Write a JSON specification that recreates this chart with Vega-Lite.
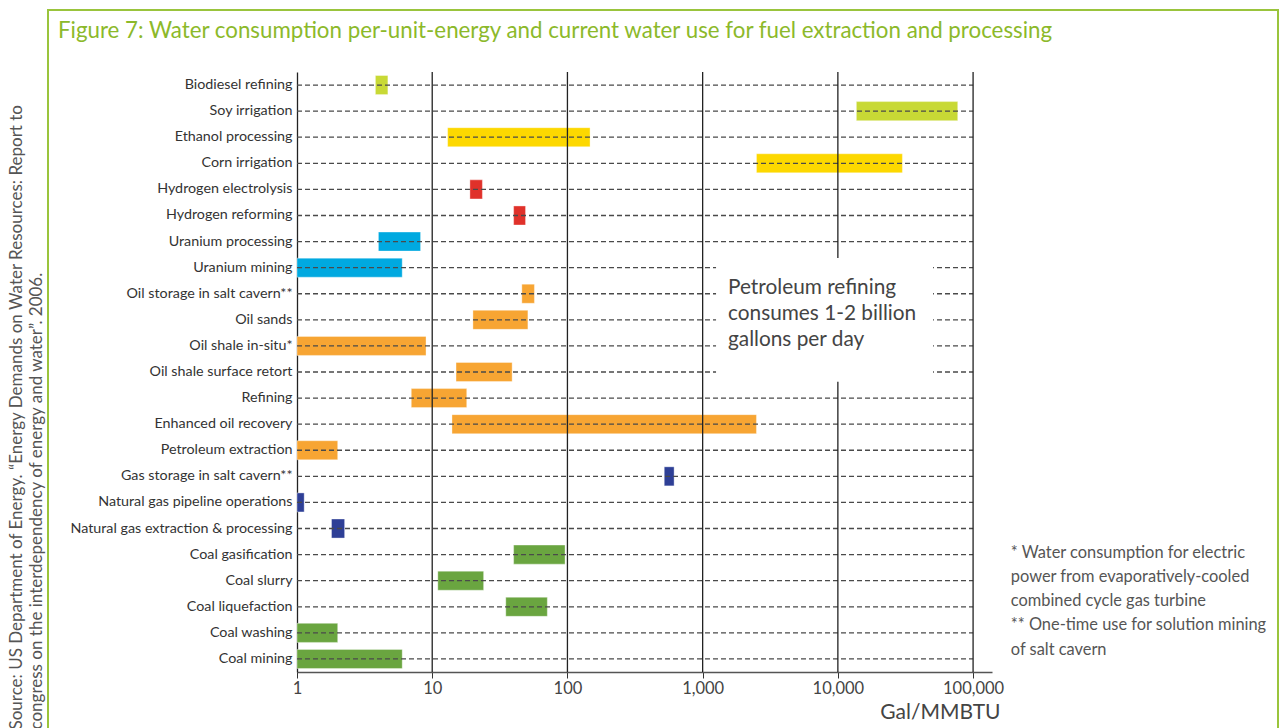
{
  "$schema": "https://vega.github.io/schema/vega-lite/v6.json",
  "width": 695,
  "height": 600,
  "autosize": {"type": "none"},
  "padding": {"left": 297, "top": 72, "right": 295, "bottom": 56},
  "background": "white",
  "config": {"view": {"stroke": null}, "font": "Lato"},
  "title": {
    "text": "Figure 7: Water consumption per-unit-energy and current water use for fuel extraction and processing",
    "anchor": "start",
    "frame": "group",
    "dx": -239,
    "offset": -51,
    "baseline": "alphabetic",
    "fontSize": 22.3,
    "fontWeight": "normal",
    "font": "Lato",
    "color": "#8cb92a"
  },
  "datasets": {
    "processes": [
      {"process": "Biodiesel refining", "group": "Biodiesel", "low": 3.8, "high": 4.7},
      {"process": "Soy irrigation", "group": "Biodiesel", "low": 13700, "high": 77000},
      {"process": "Ethanol processing", "group": "Ethanol", "low": 13, "high": 147},
      {"process": "Corn irrigation", "group": "Ethanol", "low": 2500, "high": 30000},
      {"process": "Hydrogen electrolysis", "group": "Hydrogen", "low": 19, "high": 23.5},
      {"process": "Hydrogen reforming", "group": "Hydrogen", "low": 40, "high": 49},
      {"process": "Uranium processing", "group": "Uranium", "low": 4, "high": 8.2},
      {"process": "Uranium mining", "group": "Uranium", "low": 1, "high": 6},
      {"process": "Oil storage in salt cavern**", "group": "Oil", "low": 46, "high": 57},
      {"process": "Oil sands", "group": "Oil", "low": 20, "high": 51},
      {"process": "Oil shale in-situ*", "group": "Oil", "low": 1, "high": 9},
      {"process": "Oil shale surface retort", "group": "Oil", "low": 15, "high": 39},
      {"process": "Refining", "group": "Oil", "low": 7, "high": 18},
      {"process": "Enhanced oil recovery", "group": "Oil", "low": 14, "high": 2500},
      {"process": "Petroleum extraction", "group": "Oil", "low": 1, "high": 2},
      {"process": "Gas storage in salt cavern**", "group": "Gas", "low": 520, "high": 615},
      {"process": "Natural gas pipeline operations", "group": "Gas", "low": 1, "high": 1.13},
      {"process": "Natural gas extraction & processing", "group": "Gas", "low": 1.8, "high": 2.25},
      {"process": "Coal gasification", "group": "Coal", "low": 40, "high": 96},
      {"process": "Coal slurry", "group": "Coal", "low": 11, "high": 24},
      {"process": "Coal liquefaction", "group": "Coal", "low": 35, "high": 71},
      {"process": "Coal washing", "group": "Coal", "low": 1, "high": 2},
      {"process": "Coal mining", "group": "Coal", "low": 1, "high": 6}
    ],
    "decades": [{"v": 10}, {"v": 100}, {"v": 1000}, {"v": 10000}, {"v": 100000}],
    "notes": [{"row": "Oil sands", "text": "Petroleum refining\nconsumes 1-2 billion\ngallons per day"}],
    "footnotes": [{"row": "Coal gasification", "text": "* Water consumption for electric\npower from evaporatively-cooled\ncombined cycle gas turbine\n** One-time use for solution mining\nof salt cavern"}],
    "frame": [{"x0": 0, "x1": 1, "y0": 0, "y1": 1}]
  },
  "layer": [
    {
      "layer": [
        {
          "data": {"name": "processes"},
          "mark": {"type": "bar", "stroke": "white", "strokeWidth": 0.6, "strokeOpacity": 0.6},
          "encoding": {
            "y": {
              "field": "process",
              "type": "nominal",
              "sort": null,
              "scale": {"paddingInner": 0.27, "paddingOuter": 0.135},
              "axis": {
                "title": ["Source: US Department of Energy. “Energy Demands on Water Resources: Report to", "congress on the interdependency of energy and water”. 2006."],
                "titleAngle": 270,
                "titleAlign": "left",
                "titleBaseline": "middle",
                "titleX": -281,
                "titleY": 657,
                "titleFontSize": 17,
                "titleFontWeight": "normal",
                "titleFont": "Lato",
                "titleColor": "#555555",
                "titleLineHeight": 20,
                "labelFont": "Lato",
                "labelFontSize": 14.3,
                "labelLimit": 320,
                "labelColor": "#333333",
                "labelPadding": 5,
                "ticks": false,
                "grid": false,
                "domainColor": "#222222",
                "domainWidth": 1.3
              }
            },
            "x": {
              "field": "low",
              "type": "quantitative",
              "scale": {"type": "log", "domain": [1, 138000], "nice": false},
              "axis": {
                "values": [1, 10, 100, 1000, 10000, 100000],
                "format": ",",
                "title": "Gal/MMBTU",
                "titleX": 703,
                "titleY": 46,
                "titleAlign": "right",
                "titleBaseline": "alphabetic",
                "titleFontSize": 21,
                "titleFontWeight": "normal",
                "titleFont": "Lato",
                "titleColor": "#444444",
                "labelFont": "Lato",
                "labelFontSize": 16.5,
                "labelColor": "#444444",
                "labelFlush": false,
                "labelPadding": 2,
                "tickSize": 6,
                "tickColor": "#333333",
                "domainColor": "#555555",
                "domainWidth": 1.5,
                "grid": false
              }
            },
            "x2": {"field": "high"},
            "color": {
              "field": "group",
              "type": "nominal",
              "scale": {
                "domain": ["Biodiesel", "Ethanol", "Hydrogen", "Uranium", "Oil", "Gas", "Coal"],
                "range": ["#c8d935", "#fdd800", "#e0312a", "#00a9e0", "#f7a533", "#2e3f96", "#6aa540"]
              },
              "legend": null
            }
          }
        },
        {
          "data": {"name": "processes"},
          "mark": {"type": "rule", "strokeDash": [5, 3], "color": "#4a4a4a", "strokeWidth": 1.3},
          "encoding": {
            "y": {"field": "process", "type": "nominal", "sort": null},
            "x": {"datum": 1},
            "x2": {"datum": 100000}
          }
        },
        {
          "data": {"name": "decades"},
          "mark": {"type": "rule", "color": "#222222", "strokeWidth": 1.3},
          "encoding": {"x": {"field": "v", "type": "quantitative"}}
        },
        {
          "data": {"name": "notes"},
          "mark": {"type": "rect", "fill": "white", "height": {"band": 6.5}},
          "encoding": {
            "y": {"field": "row", "type": "nominal", "sort": null},
            "x": {"datum": 1256},
            "x2": {"datum": 50600}
          }
        },
        {
          "data": {"name": "notes"},
          "mark": {"type": "text", "align": "left", "baseline": "middle", "lineBreak": "\n", "fontSize": 20.8, "lineHeight": 26, "color": "#444444", "dy": -32, "font": "Lato"},
          "encoding": {
            "y": {"field": "row", "type": "nominal", "sort": null},
            "x": {"datum": 1540},
            "text": {"field": "text"}
          }
        },
        {
          "data": {"name": "footnotes"},
          "mark": {"type": "text", "align": "left", "baseline": "middle", "lineBreak": "\n", "fontSize": 16.4, "lineHeight": 24.3, "color": "#555555", "dy": -2, "font": "Lato"},
          "encoding": {
            "y": {"field": "row", "type": "nominal", "sort": null},
            "x": {"datum": 190000},
            "text": {"field": "text"}
          }
        }
      ]
    },
    {
      "data": {"name": "frame"},
      "mark": {"type": "rect", "fill": null, "stroke": "#9ac43c", "strokeWidth": 2},
      "encoding": {
        "x": {"field": "x0", "type": "quantitative", "scale": {"domain": [0.20244, 0.76748], "nice": false, "zero": false}, "axis": null},
        "x2": {"field": "x1"},
        "y": {"field": "y0", "type": "quantitative", "scale": {"domain": [0.11733, 0.91733], "nice": false, "zero": false}, "axis": null},
        "y2": {"field": "y1"}
      }
    }
  ],
  "resolve": {"scale": {"x": "independent", "y": "independent"}}
}
